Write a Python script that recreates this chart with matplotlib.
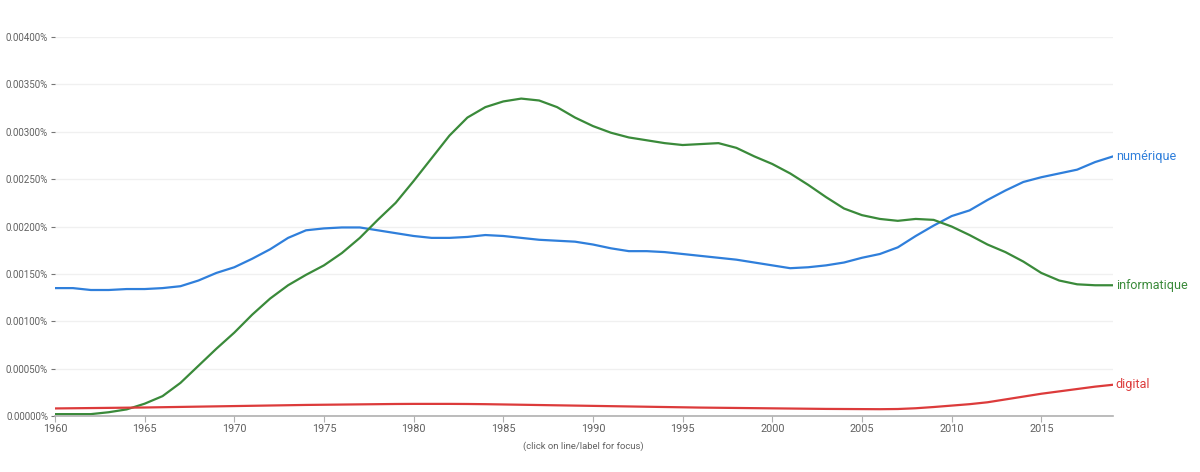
import matplotlib.pyplot as plt
import numpy as np

plt.rcParams['font.family'] = ['Roboto', 'DejaVu Sans']

years = list(range(1960, 2020))

numerique = [0.00135, 0.00135, 0.00133, 0.00133, 0.00134, 0.00134, 0.00135, 0.00137, 0.00143, 0.00151,
             0.00157, 0.00166, 0.00176, 0.00188, 0.00196, 0.00198, 0.00199, 0.00199, 0.00196, 0.00193,
             0.00190, 0.00188, 0.00188, 0.00189, 0.00191, 0.00190, 0.00188, 0.00186, 0.00185, 0.00184,
             0.00181, 0.00177, 0.00174, 0.00174, 0.00173, 0.00171, 0.00169, 0.00167, 0.00165, 0.00162,
             0.00159, 0.00156, 0.00157, 0.00159, 0.00162, 0.00167, 0.00171, 0.00178, 0.00190, 0.00201,
             0.00211, 0.00217, 0.00228, 0.00238, 0.00247, 0.00252, 0.00256, 0.00260, 0.00268, 0.00274]

informatique = [0.00002, 0.00002, 0.00002, 0.00004, 0.00007, 0.00013, 0.00021, 0.00035, 0.00053, 0.00071,
                0.00088, 0.00107, 0.00124, 0.00138, 0.00149, 0.00159, 0.00172, 0.00188, 0.00207, 0.00225,
                0.00248, 0.00272, 0.00296, 0.00315, 0.00326, 0.00332, 0.00335, 0.00333, 0.00326, 0.00315,
                0.00306, 0.00299, 0.00294, 0.00291, 0.00288, 0.00286, 0.00287, 0.00288, 0.00283, 0.00274,
                0.00266, 0.00256, 0.00244, 0.00231, 0.00219, 0.00212, 0.00208, 0.00206, 0.00208, 0.00207,
                0.00200, 0.00191, 0.00181, 0.00173, 0.00163, 0.00151, 0.00143, 0.00139, 0.00138, 0.00138]

digital = [0.000080, 0.000082, 0.000084, 0.000086, 0.000088, 0.000090, 0.000093, 0.000096, 0.000099, 0.000102,
           0.000105, 0.000108, 0.000111, 0.000114, 0.000117, 0.000119, 0.000121, 0.000123, 0.000125, 0.000127,
           0.000128, 0.000128, 0.000128, 0.000127, 0.000125, 0.000122, 0.000119, 0.000116, 0.000113, 0.000110,
           0.000107, 0.000104, 0.000101, 0.000098, 0.000095, 0.000092, 0.000089, 0.000087, 0.000085, 0.000083,
           0.000081, 0.000079, 0.000077, 0.000075, 0.000074, 0.000073, 0.000072, 0.000074, 0.000082, 0.000095,
           0.000110, 0.000125, 0.000145, 0.000175, 0.000205, 0.000235, 0.000260, 0.000285, 0.000310, 0.000330]

names = ['numérique', 'informatique', 'digital']
colors = ['#2f7fdb', '#3a8a3a', '#dc3b3b']

fig = plt.figure(figsize=(12, 4.72), dpi=100)
ax = fig.add_axes([0.0458, 0.1186, 0.8817, 0.803])

for name, vals, c in zip(names, [numerique, informatique, digital], colors):
    ax.plot(years, vals, color=c, lw=1.6, solid_capstyle='round', solid_joinstyle='round')
    ax.text(2019.15, vals[-1], name, color=c, fontsize=9, va='center', ha='left')

ax.set_xlim(1960, 2019)
ax.set_ylim(0, 0.00400)

yt = np.arange(0, 0.0040001, 0.0005)
ax.set_yticks(yt)
ax.set_yticklabels(['%.5f%%' % v for v in yt])
ax.set_xticks(range(1960, 2016, 5))

ax.grid(axis='y', color='#f0f0f0', lw=1)
ax.set_axisbelow(True)
for s in ['top', 'right', 'left']:
    ax.spines[s].set_visible(False)
ax.spines['bottom'].set_color('#b0b0b0')
ax.spines['bottom'].set_linewidth(1.2)

ax.tick_params(axis='y', length=3, color='#757575', labelsize=7, labelcolor='#616161', pad=2)
ax.tick_params(axis='x', length=4, color='#b0b0b0', labelsize=7.8, labelcolor='#616161', pad=2)

fig.text(0.486, 0.05, '(click on line/label for focus)', fontsize=6.8, color='#616161', ha='center')

fig.savefig('out.png', dpi=100)
